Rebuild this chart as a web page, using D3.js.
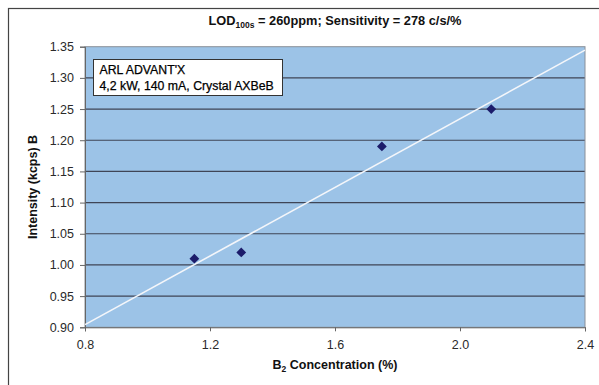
<!DOCTYPE html>
<html><head><meta charset="utf-8">
<script src="https://cdn.jsdelivr.net/npm/d3@7"></script>
<style>
html,body{margin:0;padding:0;background:#fff;}
svg{display:block;font-family:"Liberation Sans",Arial,sans-serif;}
</style></head>
<body>
<svg id="chart" width="599" height="385"></svg>
<script>
// ---- data ----
const concentration = [1.15, 1.30, 1.75, 2.10];
const intensity = [1.01, 1.02, 1.19, 1.25];
const xTicks = [0.8, 1.2, 1.6, 2.0, 2.4];
const yTicks = [0.90, 0.95, 1.00, 1.05, 1.10, 1.15, 1.20, 1.25, 1.30, 1.35];
const xDomain = [0.8, 2.4];
const yDomain = [0.90, 1.35];
const boxLines = ["ARL ADVANT'X", "4,2 kW, 140 mA, Crystal AXBeB"];

// ---- layout ----
const svg = d3.select("#chart");
const m = {left: 85, right: 585, top: 46.7, bottom: 327.3};
const x = d3.scaleLinear().domain(xDomain).range([m.left, m.right]);
const y = d3.scaleLinear().domain(yDomain).range([m.bottom, m.top]);

// outer frame (top and left visible)
svg.append("rect").attr("x", 8.5).attr("y", 8.5).attr("width", 620).attr("height", 420)
  .attr("fill", "none").attr("stroke", "#444").attr("stroke-width", 1.2);

// plot area
svg.append("rect").attr("x", m.left).attr("y", m.top)
  .attr("width", m.right - m.left).attr("height", m.bottom - m.top)
  .attr("fill", "#9cc3e7");

// gridlines
svg.append("g").selectAll("line").data(yTicks.slice(1, -1)).join("line")
  .attr("x1", m.left).attr("x2", m.right)
  .attr("y1", d => y(d)).attr("y2", d => y(d))
  .attr("stroke", "#3f4556").attr("stroke-width", 1.2);

// plot border
svg.append("rect").attr("x", m.left).attr("y", m.top)
  .attr("width", m.right - m.left).attr("height", m.bottom - m.top)
  .attr("fill", "none").attr("stroke", "#8a8f98").attr("stroke-width", 1);

// axes
const yAxis = d3.axisLeft(y).tickValues(yTicks).tickFormat(d3.format(".2f")).tickSize(5).tickPadding(6);
const xAxis = d3.axisBottom(x).tickValues(xTicks).tickFormat(d3.format(".1f")).tickSize(4).tickPadding(9);
const gy = svg.append("g").attr("transform", `translate(${m.left},0)`).call(yAxis);
const gx = svg.append("g").attr("transform", `translate(0,${m.bottom})`).call(xAxis);
[gy, gx].forEach(g => {
  g.select(".domain").attr("stroke", "#666");
  g.selectAll(".tick line").attr("stroke", "#666");
  g.selectAll(".tick text").attr("fill", "#2a2a2a").attr("font-size", 12.5)
    .attr("font-family", "'Liberation Sans',Arial,sans-serif");
});

// trend line (least squares fit of the data)
const mx = d3.mean(concentration), my = d3.mean(intensity);
const slope = d3.sum(concentration, (v, i) => (v - mx) * (intensity[i] - my)) /
              d3.sum(concentration, v => (v - mx) ** 2);
const icpt = my - slope * mx;
svg.append("line")
  .attr("x1", x(xDomain[0])).attr("y1", y(icpt + slope * xDomain[0]))
  .attr("x2", x(xDomain[1])).attr("y2", y(icpt + slope * xDomain[1]))
  .attr("stroke", "#f4f6fa").attr("stroke-width", 1.6);

// points
const pts = concentration.map((c, i) => ({c, v: intensity[i]}));
svg.append("g").selectAll("path").data(pts).join("path")
  .attr("d", d3.symbol().type(d3.symbolSquare).size(48))
  .attr("transform", d => `translate(${x(d.c)},${y(d.v)}) rotate(45)`)
  .attr("fill", "#1c1c6b");

// text box
const bx = 93.5, by = 59.5, bw = 189, bh = 36;
svg.append("rect").attr("x", bx).attr("y", by).attr("width", bw).attr("height", bh)
  .attr("fill", "#fff").attr("stroke", "#333").attr("stroke-width", 1);
svg.append("g").selectAll("text").data(boxLines).join("text")
  .attr("x", bx + 6).attr("y", (d, i) => by + 14.5 + i * 16)
  .attr("font-size", 12.3).attr("fill", "#000").attr("stroke", "#000").attr("stroke-width", 0.25)
  .text(d => d);

// title
const title = svg.append("text").attr("x", (m.left + m.right) / 2).attr("y", 25)
  .attr("text-anchor", "middle").attr("font-size", 12.8).attr("font-weight", "bold").attr("fill", "#111");
title.append("tspan").text("LOD");
title.append("tspan").attr("font-size", 8.5).attr("dy", 3).text("100s");
title.append("tspan").attr("dy", -3).text(" = 260ppm; Sensitivity = 278 c/s/%");

// x axis title
const xt = svg.append("text").attr("x", (m.left + m.right) / 2).attr("y", 369)
  .attr("text-anchor", "middle").attr("font-size", 12.5).attr("font-weight", "bold").attr("fill", "#111");
xt.append("tspan").text("B");
xt.append("tspan").attr("font-size", 8.5).attr("dy", 3).text("2");
xt.append("tspan").attr("dy", -3).text(" Concentration (%)");

// y axis title
svg.append("text")
  .attr("transform", `translate(37,${(m.top + m.bottom) / 2}) rotate(-90)`)
  .attr("text-anchor", "middle").attr("font-size", 12.5).attr("font-weight", "bold").attr("fill", "#111")
  .text("Intensity (kcps) B");
</script>
</body></html>
